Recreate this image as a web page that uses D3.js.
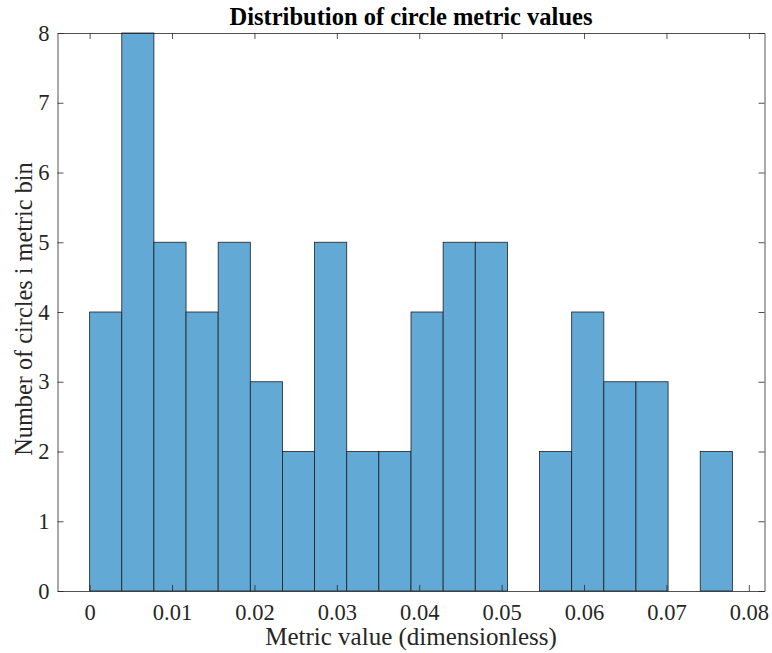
<!DOCTYPE html>
<html><head><meta charset="utf-8">
<script src="https://cdn.jsdelivr.net/npm/d3@7"></script>
<style>body{margin:0;background:#fff;} svg{display:block;}</style>
</head><body>
<svg id="c" width="772" height="653"></svg>
<script>
const binStart = 0;
const binWidth = 0.0039;
const counts = [4, 8, 5, 4, 5, 3, 2, 5, 2, 2, 4, 5, 5, 0, 2, 4, 3, 3, 0, 2];
const xTicks = [0, 0.01, 0.02, 0.03, 0.04, 0.05, 0.06, 0.07, 0.08];
const xTickLabels = ["0", "0.01", "0.02", "0.03", "0.04", "0.05", "0.06", "0.07", "0.08"];
const yTicks = [0, 1, 2, 3, 4, 5, 6, 7, 8];
const titleText = "Distribution of circle metric values";
const xLabelText = "Metric value (dimensionless)";
const yLabelText = "Number of circles i metric bin";

(function () {
const svg = d3.select("#c");
const L = 57.5, R = 764.5, T = 33, B = 591;
const x = d3.scaleLinear().domain([-binWidth, binStart + binWidth * (counts.length + 1)]).range([L, R]);
const y = d3.scaleLinear().domain([0, 8]).range([B, T]);
const font = "'Liberation Serif', 'Times New Roman', serif";
const axCol = "#262626";

const bins = counts.map((c, i) => ({x0: binStart + i * binWidth, x1: binStart + (i + 1) * binWidth, c}));
svg.append("g").selectAll("rect").data(bins.filter(d => d.c > 0)).join("rect")
  .attr("x", d => x(d.x0)).attr("width", d => x(d.x1) - x(d.x0))
  .attr("y", d => y(d.c)).attr("height", d => y(0) - y(d.c))
  .attr("fill", "#62A9D6").attr("stroke", "#1f1f1f").attr("stroke-width", 0.8);

const tl = 6;
const gB = svg.append("g").attr("transform", `translate(0,${B})`)
  .call(d3.axisBottom(x).tickValues(xTicks).tickFormat((d, i) => xTickLabels[i]).tickSizeInner(-tl).tickSizeOuter(0));
gB.selectAll("text").attr("y", 29).attr("dy", 0);
const gT = svg.append("g").attr("transform", `translate(0,${T})`)
  .call(d3.axisTop(x).tickValues(xTicks).tickFormat("").tickSizeInner(-tl).tickSizeOuter(0));
const gL = svg.append("g").attr("transform", `translate(${L},0)`)
  .call(d3.axisLeft(y).tickValues(yTicks).tickFormat(d3.format("d")).tickSizeInner(-tl).tickSizeOuter(0).tickPadding(8));
const gR = svg.append("g").attr("transform", `translate(${R},0)`)
  .call(d3.axisRight(y).tickValues(yTicks).tickFormat("").tickSizeInner(-tl).tickSizeOuter(0));
[gB, gT, gL, gR].forEach(g => {
  g.selectAll("path.domain").attr("stroke", axCol).attr("stroke-width", 0.8);
  g.selectAll("line").attr("stroke", axCol).attr("stroke-width", 0.8);
  g.selectAll("text").attr("fill", axCol).style("font-family", font).style("font-size", "22.5px");
});

svg.append("text").attr("x", (L + R) / 2).attr("y", 25).attr("text-anchor", "middle")
  .style("font-family", font).style("font-size", "24.5px").style("font-weight", "bold").attr("fill", "#000")
  .text(titleText);
svg.append("text").attr("x", (L + R) / 2).attr("y", 645).attr("text-anchor", "middle")
  .style("font-family", font).style("font-size", "25px").attr("fill", axCol)
  .text(xLabelText);
svg.append("text").attr("transform", `translate(32,309) rotate(-90)`).attr("text-anchor", "middle")
  .style("font-family", font).style("font-size", "24.3px").attr("fill", axCol)
  .text(yLabelText);
})();
</script>
</body></html>
